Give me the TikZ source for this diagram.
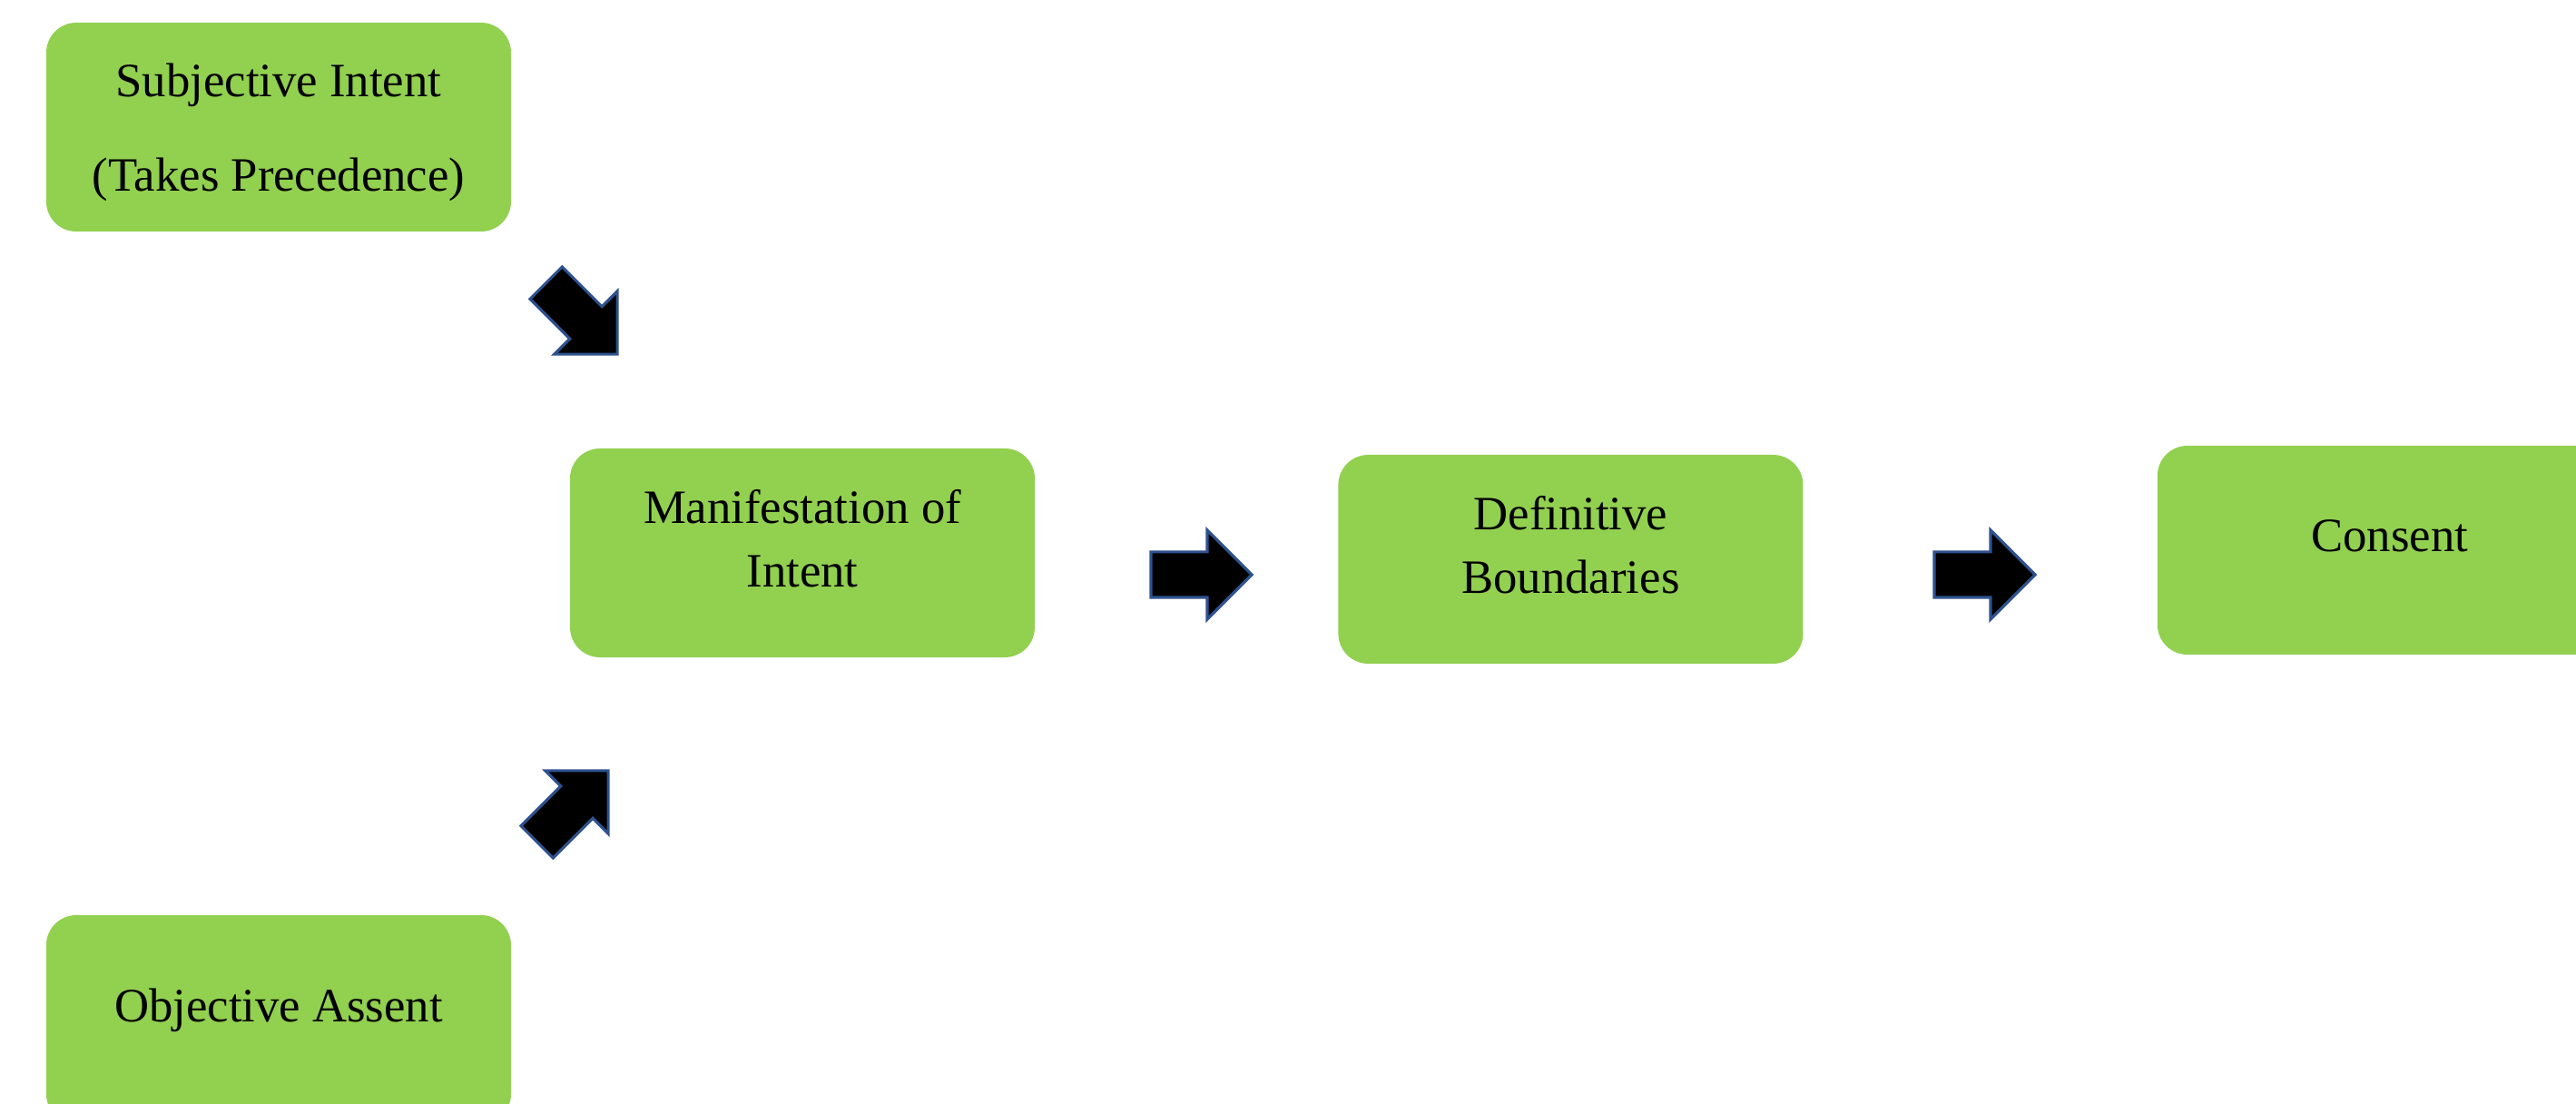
\documentclass[tikz,border=0pt]{standalone}
\usepackage{fontspec}
\setmainfont{Liberation Serif}
\usetikzlibrary{positioning, shapes.arrows}
\definecolor{stagegreen}{HTML}{92D050}
\definecolor{arrowblue}{HTML}{2F528F}
\tikzset{
every node/.style = {font = \fontsize{15}{20}\selectfont},
stage/.style = {rectangle, rounded corners = 3.3mm, fill = stagegreen,
   minimum width = 5.12cm, minimum height = 2.3cm, inner sep = 0pt,
   align = center, text depth = 9pt},
blockarrow/.style = {single arrow, fill = black, draw = arrowblue,
   line width = .9pt, minimum height = 1.11cm, inner xsep = 0pt,
   inner ysep = .235cm, single arrow head extend = .24cm}
}

\begin{document}
\begin{tikzpicture}

\clip (0,0) rectangle (28.38,-12.16);

%% Inputs
\node [stage, text depth = 0pt] (subj) at (3.07,-1.40)
   {Subjective Intent\\[9.5pt](Takes Precedence)};
\node [stage] (obj) at (3.07,-11.23) {Objective Assent};

%% Main line
\node [stage] (manif) at (8.84,-6.09) {Manifestation of\\Intent};
\node [stage] (defin) [right = 3.33cm of manif, yshift = -.07cm]
   {Definitive\\Boundaries};
\node [stage] (consent) [right = 3.89cm of defin, yshift = .10cm] {Consent};

%% Block arrows
\node [blockarrow, rotate = -45] (arr1) at (6.32,-3.42) {};
\node [blockarrow, rotate = 45] (arr2) at (6.22,-8.97) {};
\node [blockarrow] (arr3) at (13.11,-6.33) {};
\node [blockarrow] (arr4) at (21.74,-6.33) {};

\end{tikzpicture}
\end{document}
